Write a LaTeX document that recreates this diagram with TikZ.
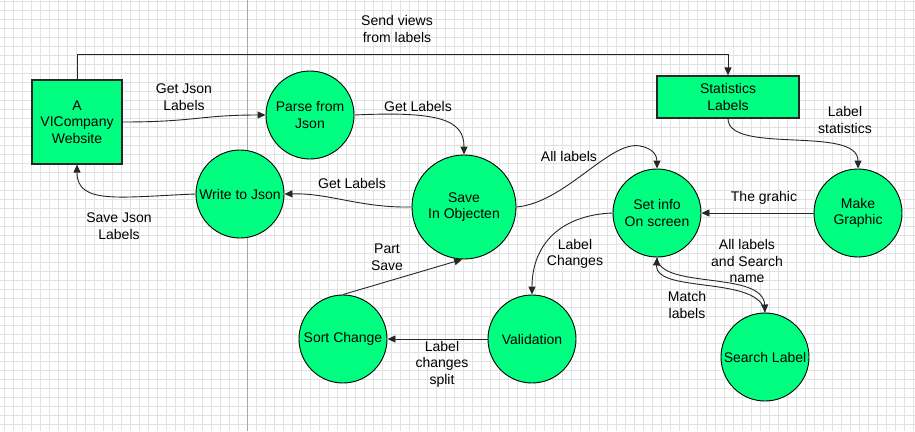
\documentclass[tikz,border=0pt]{standalone}
\usepackage{fontspec}
\setmainfont{Liberation Sans}
\usetikzlibrary{arrows.meta}
\definecolor{nodegreen}{HTML}{00FF80}
\definecolor{gridgray}{HTML}{E2E2E2}
\definecolor{divgray}{HTML}{A8A8A8}
\tikzset{
  proc/.style={circle, draw=black, line width=0.9pt, fill=nodegreen, minimum size=88pt, inner sep=0pt, align=center, font=\fontsize{14}{16.5}\selectfont},
  bigproc/.style={proc, minimum size=104pt},
  ent/.style={rectangle, draw=black!85, line width=1.2pt, fill=nodegreen, inner sep=0pt, align=center, font=\fontsize{14}{16.5}\selectfont},
  flow/.style={draw=black!85, line width=0.9pt, -{Triangle[length=8pt,width=7pt]}},
  lbl/.style={align=center, font=\fontsize{14}{16.5}\selectfont, inner sep=0pt}
}
\begin{document}
\begin{tikzpicture}[x=1pt, y=-1pt]
\useasboundingbox (0,0) rectangle (915,431);
\fill[white] (0,0) rectangle (915,431);
% grid
\foreach \gx in {4,13,...,913} \draw[gridgray, line width=1pt] (\gx,0) -- (\gx,431);
\foreach \gy in {1,10,...,430} \draw[gridgray, line width=1pt] (0,\gy) -- (915,\gy);
\draw[divgray, line width=1pt] (247,0) -- (247,431);

% nodes
\node[ent, minimum width=90pt, minimum height=84pt] (web) at (77,122) {A\\VICompany\\Website};
\node[ent, minimum width=142pt, minimum height=42pt] (stat) at (728,97) {Statistics\\Labels};
\node[proc] (parse) at (310,115) {Parse from\\Json};
\node[proc] (write) at (240,194) {Write to Json};
\node[bigproc] (save) at (464,207) {Save\\In Objecten};
\node[proc] (setinfo) at (657,213) {Set info\\On screen};
\node[proc] (make) at (858,213) {Make\\Graphic};
\node[proc] (valid) at (532,339) {Validation};
\node[proc] (sort) at (343,339) {Sort Change};
\node[proc] (search) at (765,357) {Search Label};

\coordinate (topline) at (0,54);

% connectors
\draw[flow] (web.north) -- (web.north |- topline) -| (stat.north);
\draw[flow] (web.east) .. controls (195,122) and (200,115) .. (parse.west);
\draw[flow] (parse.east) .. controls (440,111) and (464,120) .. (save.north);
\draw[flow] (save.west) .. controls (360,208) and (330,193) .. (write.east);
\draw[flow] (write.west) .. controls (120,197) and (77,205) .. (web.south);
\draw[flow] (save.east) .. controls (565,203) and (610,140) .. (640,146) .. controls (652,148) and (657,155) .. (setinfo.north);
\draw[flow] (stat.south) .. controls (728,155) and (858,125) .. (make.north);
\draw[flow] (make.west) -- (setinfo.east);
\draw[flow] (setinfo.west) .. controls (560,215) and (532,245) .. (valid.north);
\draw[flow] (valid.west) -- (sort.east);
\draw[flow] (sort.north) -- (save.-92);
\draw[flow] (setinfo.south) .. controls (659,290) and (763,270) .. (search.north);
\draw[flow] (search.north) .. controls (761,275) and (655,294) .. (setinfo.south);

% labels
\node[lbl] (l1) at (397,29) {Send views\\from labels};
\node[lbl] (l2) at (184,97) {Get Json\\Labels};
\node[lbl] (l3) at (418,106) {Get Labels};
\node[lbl] (l4) at (352,183) {Get Labels};
\node[lbl] (l5) at (119,226) {Save Json\\Labels};
\node[lbl] (l6) at (569,156) {All labels};
\node[lbl] (l7) at (845,120) {Label\\statistics};
\node[lbl] (l8) at (764,198) {The grahic};
\node[lbl] (l9) at (575,254) {Label\\Changes};
\node[lbl] (l10) at (747,261) {All labels\\and Search\\name};
\node[lbl] (l11) at (687,305) {Match\\labels};
\node[lbl] (l12) at (387,257) {Part\\Save};
\node[lbl] (l13) at (442,364) {Label\\changes\\split};
\end{tikzpicture}
\end{document}
